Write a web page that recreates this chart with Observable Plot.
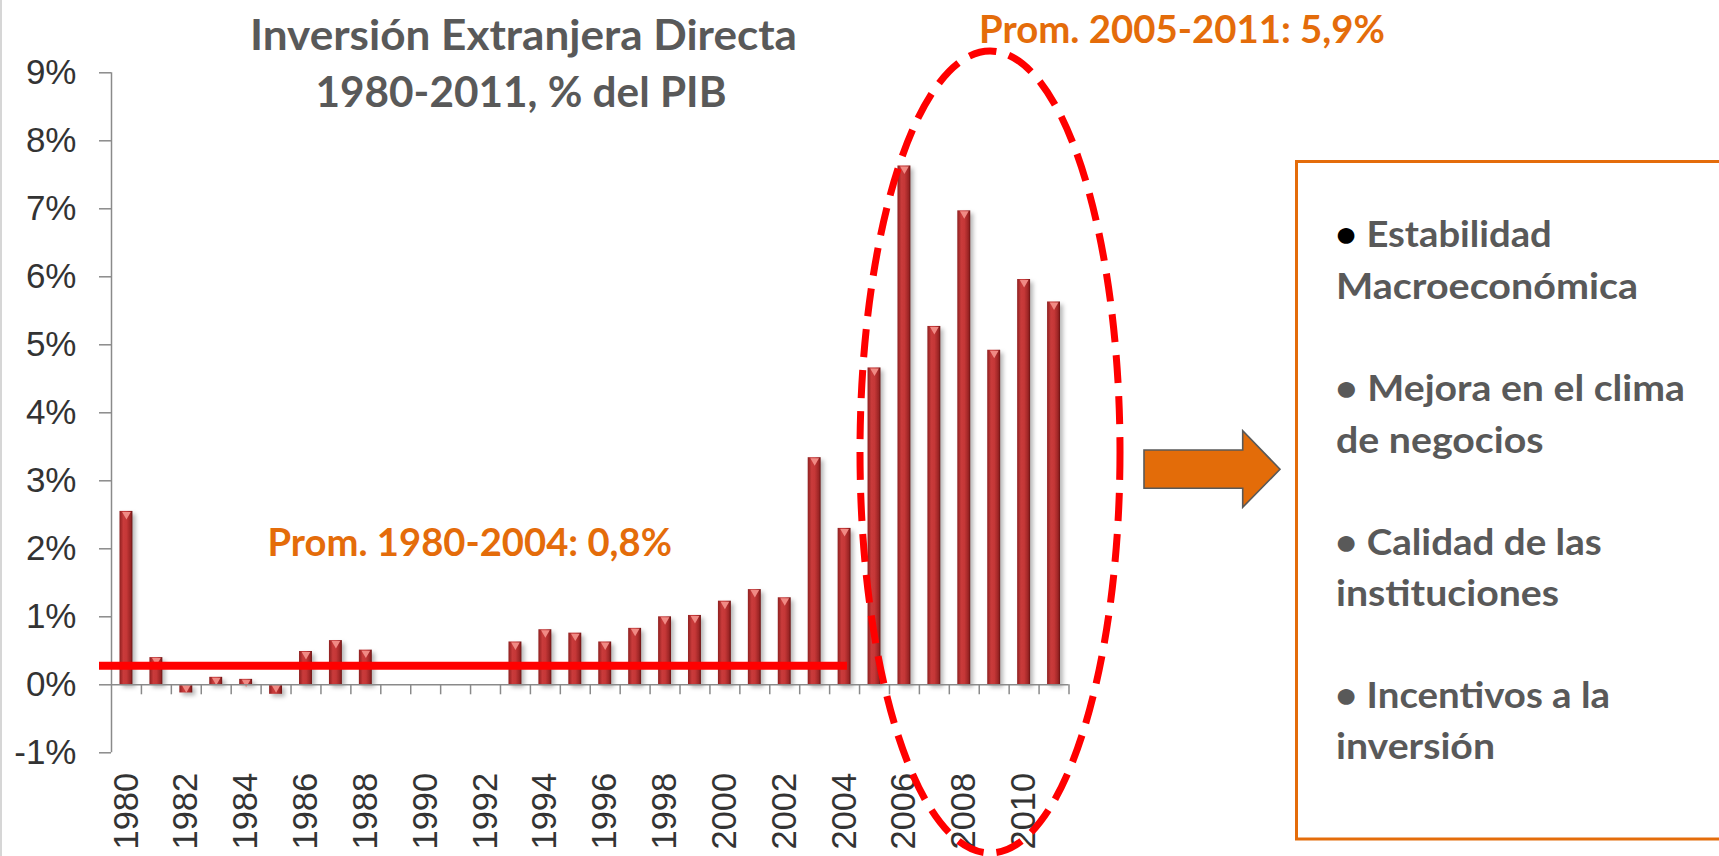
<!DOCTYPE html>
<html>
<head>
<meta charset="utf-8">
<script src="https://cdn.jsdelivr.net/npm/d3@7"></script>
<script src="https://cdn.jsdelivr.net/npm/@observablehq/plot@0.6"></script>
<style>
  html, body { margin: 0; padding: 0; background: #fff; }
  #wrap { position: relative; width: 1719px; height: 856px; overflow: hidden; background: #fff; }
  #chart { position: absolute; left: 0; top: 0; }
  #chart svg { display: block; }
  #overlay { position: absolute; left: 0; top: 0; pointer-events: none; }
  #edge { position: absolute; left: 0; top: 0; width: 2px; height: 856px; background: #d6d6d6; }
</style>
</head>
<body>
<div id="wrap">
  <div id="chart"></div>
  <svg id="overlay" width="1719" height="856" xmlns="http://www.w3.org/2000/svg">
    <g font-family="Lato, 'Open Sans', sans-serif" font-weight="bold">
      <text x="250" y="50" font-size="42" fill="#595959" textLength="547" lengthAdjust="spacingAndGlyphs">Inversión Extranjera Directa</text>
      <text x="315.5" y="106.5" font-size="42" fill="#595959" textLength="411" lengthAdjust="spacingAndGlyphs">1980-2011, % del PIB</text>
      <text x="979" y="43.3" font-size="38" fill="#E46C0A" textLength="406" lengthAdjust="spacingAndGlyphs">Prom. 2005-2011: 5,9%</text>
      <text x="267.5" y="556" font-size="38" fill="#E46C0A" textLength="404.5" lengthAdjust="spacingAndGlyphs">Prom. 1980-2004: 0,8%</text>
    </g>
    <ellipse cx="990" cy="452" rx="130" ry="401" fill="none" stroke="#FF0000" stroke-width="7" stroke-dasharray="28 13"></ellipse>
    <polygon points="1144,450 1242.7,450 1242.7,430.7 1280,469.3 1242.7,507.3 1242.7,488.3 1144,488.3" fill="#E36C09" stroke="#595959" stroke-width="1.6"></polygon>
    <rect x="1296.5" y="161.5" width="500" height="677.5" fill="none" stroke="#E46C0A" stroke-width="3"></rect>
    <g font-family="Lato, 'Open Sans', sans-serif" font-weight="bold" font-size="36" fill="#595959">
      <text x="1335" y="247.3" textLength="216.7" lengthAdjust="spacingAndGlyphs"><tspan fill="#000">•</tspan> Estabilidad</text>
      <text x="1336" y="298.5" textLength="302" lengthAdjust="spacingAndGlyphs">Macroeconómica</text>
      <text x="1335" y="401" textLength="350" lengthAdjust="spacingAndGlyphs">• Mejora en el clima</text>
      <text x="1336" y="452.5" textLength="207.5" lengthAdjust="spacingAndGlyphs">de negocios</text>
      <text x="1335" y="555" textLength="266.7" lengthAdjust="spacingAndGlyphs">• Calidad de las</text>
      <text x="1336" y="605.5" textLength="223" lengthAdjust="spacingAndGlyphs">instituciones</text>
      <text x="1335" y="708" textLength="275" lengthAdjust="spacingAndGlyphs">• Incentivos a la</text>
      <text x="1336" y="758.5" textLength="159" lengthAdjust="spacingAndGlyphs">inversión</text>
    </g>
  </svg>
  <div id="edge"></div>
</div>
<script>
// ---- data ----
const years = [1980, 1981, 1982, 1983, 1984, 1985, 1986, 1987, 1988, 1989, 1990, 1991, 1992, 1993, 1994, 1995,
               1996, 1997, 1998, 1999, 2000, 2001, 2002, 2003, 2004, 2005, 2006, 2007, 2008, 2009, 2010, 2011];
const fdiPctGdp = [2.55, 0.40, -0.12, 0.11, 0.08, -0.14, 0.49, 0.65, 0.51, null, null, null, null, 0.63, 0.81, 0.76,
                   0.63, 0.83, 1.00, 1.02, 1.23, 1.40, 1.28, 3.34, 2.30, 4.66, 7.63, 5.27, 6.97, 4.92, 5.96, 5.63];
const avgLineLevel = 0.28;          // level at which the red average line is drawn
const avgLineYears = [1980, 2004];  // span of the red average line
const yTicks = [-1, 0, 1, 2, 3, 4, 5, 6, 7, 8, 9];
const xLabelYears = [1980, 1982, 1984, 1986, 1988, 1990, 1992, 1994, 1996, 1998, 2000, 2002, 2004, 2006, 2008, 2010];

const data = years.map((year, i) => ({year, value: fdiPctGdp[i]})).filter(d => d.value != null);
const xDomain = [years[0] - 0.5, years[years.length - 1] + 0.5];
const boundaries = years.map(y => y + 0.5);
const axisGray = "#8a8a8a";
const labelFont = "'Liberation Sans', Arial, sans-serif";

const plot = Plot.plot({
  width: 1719,
  height: 856,
  marginLeft: 111,
  marginRight: 650.5,
  marginTop: 72.3,
  marginBottom: 103.7,
  x: {type: "linear", domain: xDomain},
  y: {domain: [yTicks[0], yTicks[yTicks.length - 1]]},
  style: {background: "transparent", overflow: "visible"},
  marks: [
    Plot.rect(data, {
      x1: d => d.year - 0.5, x2: d => d.year + 0.5,
      y1: () => 0, y2: "value",
      insetLeft: 8.5, insetRight: 8.5,
      fill: "url(#barGrad)"
    }),
    Plot.dot(data, {
      x: "year", y: d => Math.max(0, d.value),
      symbol: "triangle", r: 3.2, rotate: 180, dy: 3,
      fill: "#f08a84", stroke: "none"
    }),
    Plot.ruleY([0], {x1: () => xDomain[0], x2: () => xDomain[1], stroke: axisGray, strokeWidth: 1.5}),
    Plot.ruleX(boundaries, {y1: () => 0, y2: () => 0, insetBottom: -10, stroke: axisGray, strokeWidth: 1.5}),
    Plot.ruleX([xDomain[0]], {stroke: axisGray, strokeWidth: 1.5}),
    Plot.ruleY(yTicks, {x1: () => xDomain[0], x2: () => xDomain[0], insetLeft: -12, stroke: axisGray, strokeWidth: 1.5}),
    Plot.ruleY([avgLineLevel], {
      x1: () => avgLineYears[0] - 0.5, x2: () => avgLineYears[1] + 0.5,
      dx: -12, stroke: "#FF0000", strokeWidth: 8
    }),
    Plot.axisY({
      ticks: yTicks, tickSize: 0, tickPadding: 35,
      tickFormat: d => d + "%", fontSize: 35, fontFamily: labelFont,
      fill: "#333", label: null
    }),
    Plot.axisX({
      ticks: xLabelYears, tickSize: 0, tickPadding: 20, tickRotate: -90,
      tickFormat: d => String(d), fontSize: 34.5, fontFamily: labelFont,
      fill: "#333", label: null
    })
  ]
});

// gradient + shadow for the cylinder-like bars
const ns = "http://www.w3.org/2000/svg";
const defs = document.createElementNS(ns, "defs");
defs.innerHTML = `
  <linearGradient id="barGrad" x1="0" y1="0" x2="1" y2="0">
    <stop offset="0" stop-color="#8e1f1f"/>
    <stop offset="0.3" stop-color="#c93b3b"/>
    <stop offset="0.55" stop-color="#c53737"/>
    <stop offset="0.85" stop-color="#9c2525"/>
    <stop offset="1" stop-color="#6a1212"/>
  </linearGradient>`;
plot.insertBefore(defs, plot.firstChild);
const rectGroup = plot.querySelector('g[aria-label="rect"]');
if (rectGroup) rectGroup.style.filter = "drop-shadow(3px 3px 2px rgba(0,0,0,0.28))";

document.getElementById("chart").appendChild(plot);
</script>
</body>
</html>
